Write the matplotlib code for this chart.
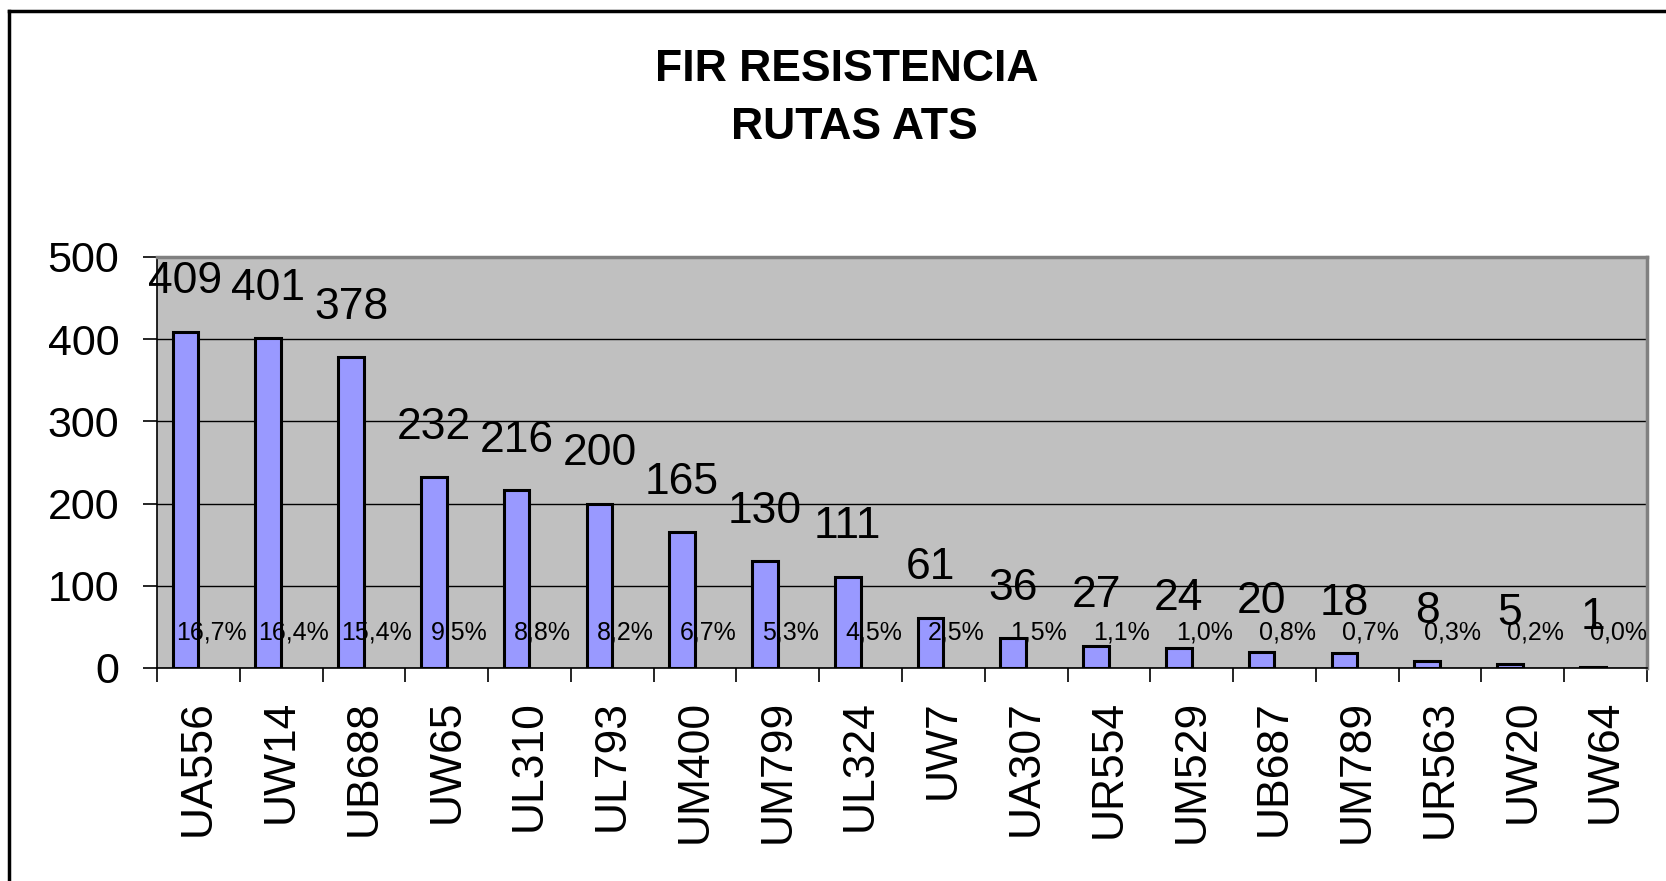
import numpy as np
import matplotlib
matplotlib.use("Agg")
import matplotlib.pyplot as plt
from matplotlib.lines import Line2D

# datos del grafico (rutas ATS, FIR Resistencia)
rutas = ["UA556", "UW14", "UB688", "UW65", "UL310", "UL793", "UM400", "UM799",
         "UL324", "UW7", "UA307", "UR554", "UM529", "UB687", "UM789", "UR563",
         "UW20", "UW64"]
cantidad = [409, 401, 378, 232, 216, 200, 165, 130, 111, 61, 36, 27, 24, 20, 18, 8, 5, 1]
porcentaje = [16.7, 16.4, 15.4, 9.5, 8.8, 8.2, 6.7, 5.3, 4.5, 2.5, 1.5, 1.1, 1.0, 0.8,
              0.7, 0.3, 0.2, 0.0]
yticks = [0, 100, 200, 300, 400, 500]

plt.rcParams['font.family'] = ['Liberation Sans', 'DejaVu Sans']

fig = plt.figure(figsize=(16.66, 8.81), dpi=100)
ax = fig.add_axes([0.0942, 0.2418, 0.8944, 0.4665])
ax.set_facecolor("#C0C0C0")

x = np.arange(len(rutas))
ancho = 0.31
ax.bar(x - ancho / 2, cantidad, width=ancho, color="#9999FF",
       edgecolor="black", linewidth=2.2, zorder=3)

# etiquetas de valores
for xi, v in zip(x, cantidad):
    ax.annotate(str(v), (xi - ancho / 2, v), xytext=(0, 50),
                textcoords="offset pixels", ha="center", va="center",
                fontsize=32, zorder=5)

# etiquetas de porcentaje (segunda serie casi nula)
for xi, p in zip(x, porcentaje):
    txt = f"{p:.1f}%".replace(".", ",")
    ax.annotate(txt, (xi + ancho / 2, 0), xytext=(0, 35),
                textcoords="offset pixels", ha="center", va="center",
                fontsize=18, zorder=5)

ax.set_xlim(-0.5, len(rutas) - 0.5)
ax.set_ylim(0, 500)
ax.set_yticks(yticks)
ax.yaxis.grid(True, color="black", linewidth=1.0, zorder=1)
ax.set_axisbelow(True)

ax.set_xticks(x)
ax.set_xticklabels(rutas, rotation=90, fontsize=32, va="top")
ax.set_xticks(np.arange(len(rutas) + 1) - 0.5, minor=True)
ax.tick_params(axis="x", which="major", length=0, pad=23)
ax.tick_params(axis="x", which="minor", length=10, width=1.2, color="black")
ax.tick_params(axis="y", length=10, width=1.2, labelsize=31, pad=17)

for lado in ["top", "right"]:
    ax.spines[lado].set_color("#808080")
    ax.spines[lado].set_linewidth(2.5)
for lado in ["left", "bottom"]:
    ax.spines[lado].set_color("black")
    ax.spines[lado].set_linewidth(1.2)

fig.text(0.508, 0.921, "FIR RESISTENCIA", ha="center", va="center",
         fontsize=32, fontweight="bold")
fig.text(0.513, 0.855, "RUTAS ATS", ha="center", va="center",
         fontsize=32, fontweight="bold")

# borde del area del grafico
fig.add_artist(Line2D([9 / 1666, 1.0], [1 - 11 / 881, 1 - 11 / 881],
                      transform=fig.transFigure, color="black", linewidth=2.5))
fig.add_artist(Line2D([9 / 1666, 9 / 1666], [0.0, 1 - 11 / 881],
                      transform=fig.transFigure, color="black", linewidth=2.5))

fig.savefig("out.png", dpi=100)
